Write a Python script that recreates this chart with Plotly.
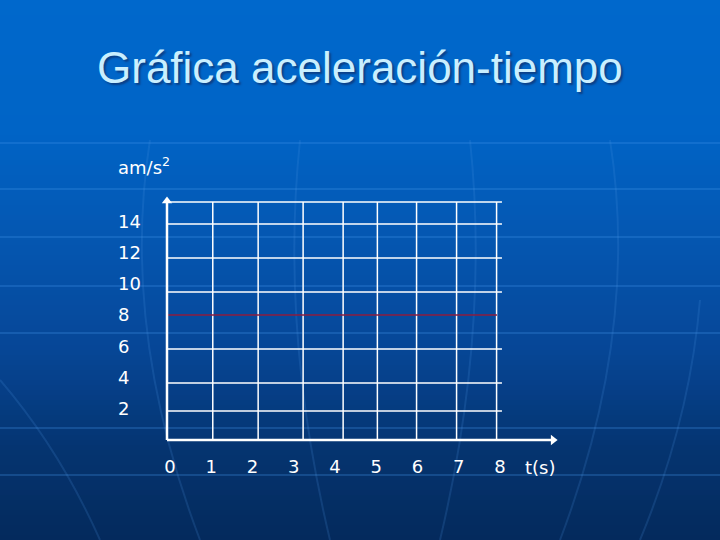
import plotly.graph_objects as go

# ---- data ----
t_values = [0, 8]            # time (s)
a_values = [8, 8]            # acceleration (m/s^2)
t_ticks = [0, 1, 2, 3, 4, 5, 6, 7, 8]
t_ticklabels = ["0", "1", "2", "3", "4", "5", "6", "7", "8"]
a_ticks = [2, 4, 6, 8, 10, 12, 14]
a_ticklabels = ["2", "4", "6", "8", "10", "12", "14"]
# hand-drawn grid of the original slide (read in axis units)
grid_t_lines = [1.11, 2.21, 3.30, 4.27, 5.10, 6.05, 7.02, 7.99]
grid_a_lines = [1.86, 3.65, 5.82, 9.47, 11.65, 13.82, 15.23]
grid_t_end = 8.12
grid_a_top = 15.23
t_axis_end = 9.48
a_axis_end = 15.55

W, H = 720, 540
X_RANGE = [-4.048, 13.406]
Y_RANGE = [-6.4, 28.16]

fig = go.Figure()

shapes = []
# background gradient stripes
stops = [(0, (0, 104, 204)), (130, (0, 100, 198)), (250, (5, 85, 175)),
         (350, (6, 70, 150)), (450, (5, 52, 112)), (540, (4, 42, 92))]
def col(y):
    for (y0, c0), (y1, c1) in zip(stops[:-1], stops[1:]):
        if y0 <= y <= y1:
            f = (y - y0) / (y1 - y0)
            return "rgb(%d,%d,%d)" % tuple(round(c0[i] + f * (c1[i] - c0[i])) for i in range(3))
    return "rgb(%d,%d,%d)" % stops[-1][1]
step = 5
for y in range(0, H, step):
    shapes.append(dict(type="rect", xref="paper", yref="paper", x0=0, x1=1,
                       y0=1 - (y + step) / H, y1=1 - y / H, line=dict(width=0),
                       fillcolor=col(y + step / 2), layer="below"))
# faint background lines (decoration of the slide template)
for yp in [143, 189, 237, 286, 333, 428, 475]:
    shapes.append(dict(type="line", xref="paper", yref="paper", x0=0, x1=1,
                       y0=1 - yp / H, y1=1 - yp / H,
                       line=dict(color="rgba(70,150,235,0.35)", width=1.5), layer="below"))
def px(xp, yp):
    return "%.4f %.4f" % (xp / W, 1 - yp / H)
curves = [
    [(0, 380), (60, 450), (100, 540)],
    [(150, 140), (120, 330), (200, 540)],
    [(300, 140), (280, 330), (330, 540)],
    [(470, 140), (490, 330), (440, 540)],
    [(610, 140), (640, 330), (560, 540)],
    [(700, 300), (690, 420), (640, 540)],
]
for c in curves:
    path = "M %s Q %s %s" % (px(*c[0]), px(*c[1]), px(*c[2]))
    shapes.append(dict(type="path", xref="paper", yref="paper", path=path,
                       line=dict(color="rgba(80,150,230,0.18)", width=2), layer="below"))
# grid
for gt in grid_t_lines:
    shapes.append(dict(type="line", xref="x", yref="y", x0=gt, x1=gt, y0=0, y1=grid_a_top,
                       line=dict(color="white", width=1.5), layer="below"))
for ga in grid_a_lines:
    shapes.append(dict(type="line", xref="x", yref="y", x0=0, x1=grid_t_end, y0=ga, y1=ga,
                       line=dict(color="white", width=1.5), layer="below"))
# axis lines
shapes.append(dict(type="line", xref="x", yref="y", x0=0, x1=t_axis_end - 0.15, y0=0, y1=0,
                   line=dict(color="white", width=2.5)))
shapes.append(dict(type="line", xref="x", yref="y", x0=0, x1=0, y0=0, y1=a_axis_end - 0.3,
                   line=dict(color="white", width=2.5)))

fig.add_trace(go.Scatter(x=t_values, y=a_values, mode="lines",
                         line=dict(color="#8c1d3f", width=1.6),
                         hoverinfo="skip", showlegend=False))
# arrow heads of the axes
fig.add_trace(go.Scatter(x=[t_axis_end - 0.12, 0], y=[0, a_axis_end - 0.25], mode="markers",
                         marker=dict(symbol=["triangle-right", "triangle-up"], size=9,
                                     color="white", line=dict(width=0)),
                         hoverinfo="skip", showlegend=False, cliponaxis=False))

font_txt = "DejaVu Sans, Verdana, sans-serif"
annotations = [
    dict(x=0.5, y=1 - 68 / H, xref="paper", yref="paper", xanchor="center", yanchor="middle",
         text="Gráfica aceleración-tiempo", showarrow=False,
         font=dict(family="Liberation Sans, Arial, sans-serif", size=44, color="#c9efff",
                   shadow="2px 2px 2px #0b3f86")),
    dict(x=116 / W, y=1 - 166 / H, xref="paper", yref="paper", xanchor="left", yanchor="middle",
         text="am/s<sup>2</sup>", showarrow=False,
         font=dict(family=font_txt, size=18, color="white")),
    dict(x=9.04, y=1 - 467 / H, xref="x", yref="paper", xanchor="center", yanchor="middle",
         text="t(s)", showarrow=False, font=dict(family=font_txt, size=18, color="white")),
]

fig.update_layout(
    width=W, height=H, margin=dict(l=0, r=0, t=0, b=0),
    paper_bgcolor="#0558b0", plot_bgcolor="rgba(0,0,0,0)",
    shapes=shapes, annotations=annotations, showlegend=False,
    xaxis=dict(range=X_RANGE, anchor="free", position=100 / H, showgrid=False,
               zeroline=False, showline=False, ticks="", tickvals=t_ticks,
               ticktext=t_ticklabels, ticklabelstandoff=14, ticklabelshift=3,
               tickfont=dict(family=font_txt, size=18, color="white"), fixedrange=True),
    yaxis=dict(range=Y_RANGE, anchor="free", position=114 / W, showgrid=False,
               zeroline=False, showline=False, ticks="", tickvals=a_ticks,
               ticktext=a_ticklabels, ticklabelposition="inside",
               tickfont=dict(family=font_txt, size=18, color="white"), fixedrange=True),
)

fig.write_html("out.html", config={"displayModeBar": False},
               post_script="document.body.style.margin='0';")
